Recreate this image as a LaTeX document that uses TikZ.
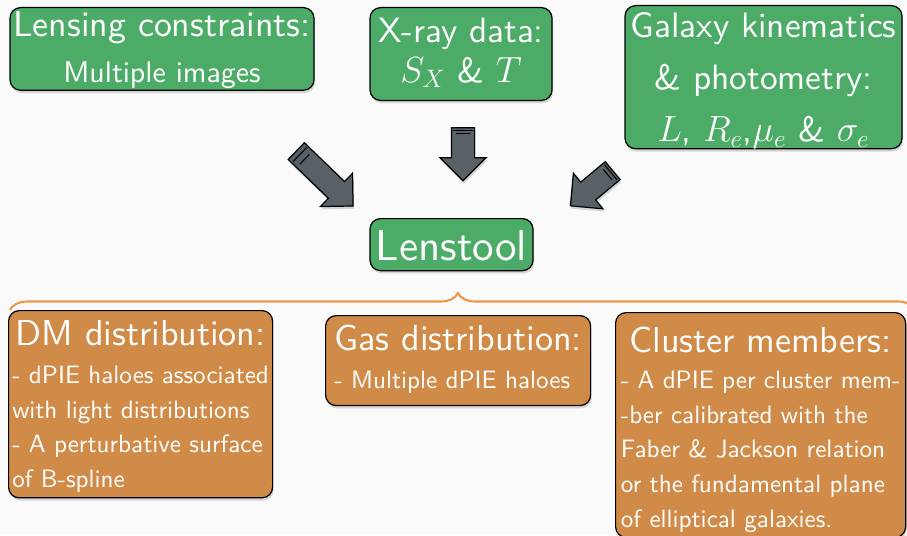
\documentclass[tikz,border=0pt]{standalone}
\usepackage[no-math]{fontspec}
\setsansfont{lmsans10-regular.otf}[BoldFont=lmsans10-bold.otf]
\usepackage{tikz,amsmath,amssymb}
\usetikzlibrary{shapes,arrows,shadows,calc}
\usetikzlibrary{decorations.pathreplacing}
\definecolor{mygreen}{RGB}{76,172,103}
\definecolor{myorange}{RGB}{209,139,72}
\definecolor{mybrace}{RGB}{236,152,72}
\definecolor{myslate}{RGB}{88,98,102}
\definecolor{mybg}{RGB}{250,250,250}
\newcommand{\hgap}[1]{\rule{0pt}{#1}}
\newcommand{\dgap}[1]{\rule[-#1]{0pt}{#1}}
\newcommand{\boxtitle}[2]{\multicolumn{1}{@{}c@{}}{\hgap{#1}\fontsize{20.5}{20}\selectfont #2}}

\begin{document}
\begin{tikzpicture}

\tikzstyle{green_block} = [draw=black, line width=0.7, rounded corners=6, fill=mygreen,
text=white, font=\sffamily, inner xsep=1, inner ysep=0, align=center, anchor=north,
drop shadow={opacity=0.3, shadow xshift=0.6pt, shadow yshift=-1.6pt}]
\tikzstyle{orange_block} = [draw=black, line width=0.7, rounded corners=6, fill=myorange,
text=white, font=\sffamily\fontsize{14.3}{19.7}\selectfont, inner xsep=1, inner ysep=0, anchor=north west,
drop shadow={opacity=0.3, shadow xshift=0.6pt, shadow yshift=-1.6pt}]
\tikzstyle{big_arrow} = [single arrow, draw=black, line width=0.7, fill=myslate, inner xsep=0, inner ysep=0.22cm,
single arrow head extend=0.23cm, single arrow tip angle=90,
drop shadow={opacity=0.3, shadow xshift=0.6pt, shadow yshift=-1.6pt}]

\fill[mybg] (0,0) rectangle (18.14,10.7);
\useasboundingbox (0,0) rectangle (18.14,10.7);

\node [green_block, minimum width=6.08cm, font=\sffamily\fontsize{20.4}{26}\selectfont]
 (lensing) at (3.24,10.56) {\hgap{16.5pt}Lensing constraints:\\{\fontsize{17}{26}\selectfont Multiple images}\dgap{4.5pt}};
\node [green_block, minimum width=3.64cm, font=\sffamily\fontsize{20}{22.7}\selectfont]
 (xray) at (9.22,10.56) {\hgap{19.9pt}X-ray data:\\$S_X$ \& $T$\dgap{10.2pt}};
\node [green_block, minimum width=5.54cm, font=\sffamily\fontsize{20.1}{29.6}\selectfont]
 (galaxy) at (15.27,10.6) {\hgap{18.2pt}Galaxy kinematics\\\& photometry:\\$L$, $R_e$,$\mu_e$ \& $\sigma_e$\dgap{3.4pt}};

\node [big_arrow, minimum height=1.58cm, rotate=-44] (arrow_lens) at (6.41,7.21) {};
\node [big_arrow, minimum height=1.06cm, rotate=-90] (arrow_xray) at (9.26,7.73) {};
\node [big_arrow, minimum height=1.1cm, rotate=219.8] (arrow_gal) at (11.92,7.01) {};
\foreach \a in {arrow_lens,arrow_xray,arrow_gal}
 \foreach \f in {0.1,0.22}
  \draw[line width=0.6] ($(\a.before tail)!\f!(\a.before head)$) -- ($(\a.after tail)!\f!(\a.after head)$);

\node [green_block, minimum width=3.26cm, font=\sffamily\fontsize{24.5}{26}\selectfont]
 (lenstool) at (9.03,6.34) {\hgap{23.9pt}Lenstool\dgap{5.7pt}};

\coordinate (brace_l) at (0.2,4.5);
\coordinate (brace_r) at (18.3,4.5);
\draw[mybrace, line width=1.2, decorate, decoration={brace, amplitude=0.34cm, aspect=0.495}] (brace_l) -- (brace_r);

\node [orange_block, minimum width=5.28cm] (dm) at (0.16,4.5)
 {\begin{tabular}{@{}l@{}}\boxtitle{19.9pt}{DM distribution:}\\[1.9pt]
 - dPIE haloes associated\\with light distributions\\- A perturbative surface\\of B-spline\end{tabular}};
\node [orange_block, minimum width=5.3cm] (gas) at (6.5,4.4)
 {\begin{tabular}{@{}l@{}}\boxtitle{19.9pt}{Gas distribution:}\\[1.9pt]
 - Multiple dPIE haloes\dgap{9.7pt}\end{tabular}};
\node [orange_block, minimum width=5.8cm] (cluster) at (12.3,4.46)
 {\begin{tabular}{@{}l@{}}\boxtitle{22.7pt}{Cluster members:}\\[0.8pt]
 - A dPIE per cluster mem-\\-ber calibrated with the\\Faber \& Jackson relation\\or the fundamental plane\\of elliptical galaxies.\end{tabular}};

\end{tikzpicture}
\end{document}
